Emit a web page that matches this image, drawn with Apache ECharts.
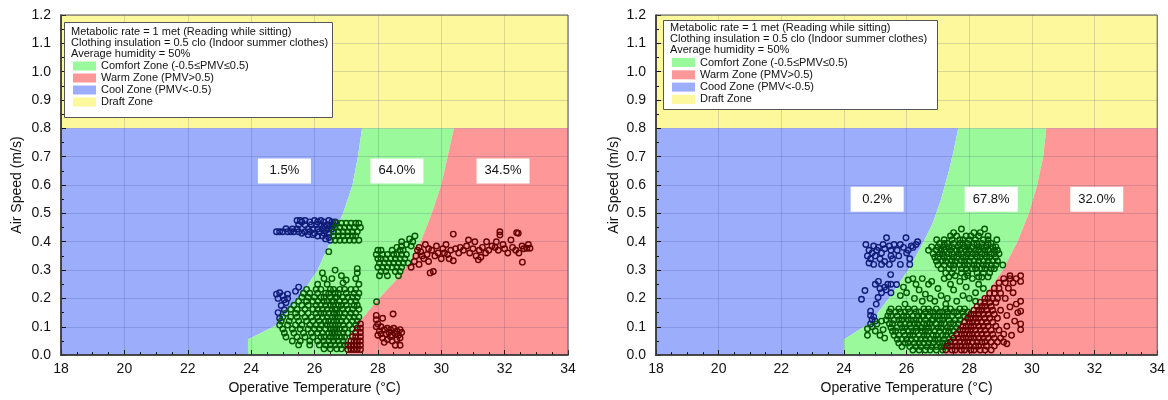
<!DOCTYPE html>
<html>
<head>
<meta charset="utf-8">
<script src="https://cdn.jsdelivr.net/npm/echarts@6/dist/echarts.min.js"></script>
<style>
  html, body { margin: 0; padding: 0; background: #fff; }
  #chart { width: 1168px; height: 400px; }
</style>
</head>
<body>
<div id="chart"></div>
<script>
// axis ranges
var xMin = 18, xMax = 34, xStep = 2;
var yMin = 0, yMax = 1.2, yStep = 0.1;
var draftLine = 0.8;

// zone edges (PMV = -0.5 and PMV = +0.5)
var leftCoolEdge = [[23.9, 0], [23.9, 0.055], [24.8, 0.105], [25.5, 0.2], [26.1, 0.3], [26.5, 0.4], [26.9, 0.5], [27.2, 0.6], [27.37, 0.7], [27.5, 0.8]];
var leftWarmEdge = [[27.0, 0], [27.2, 0.05], [27.45, 0.12], [27.95, 0.19], [28.5, 0.255], [29.0, 0.325], [29.35, 0.4], [29.7, 0.5], [30.0, 0.6], [30.2, 0.7], [30.4, 0.8]];
var rightCoolEdge = [[24.0, 0], [24.0, 0.055], [24.85, 0.115], [25.5, 0.21], [26.05, 0.3], [26.5, 0.39], [26.85, 0.47], [27.1, 0.55], [27.35, 0.65], [27.5, 0.72], [27.65, 0.8]];
var rightWarmEdge = [[27.2, 0], [27.7, 0.1], [28.44, 0.2], [29.07, 0.3], [29.54, 0.4], [29.9, 0.5], [30.17, 0.6], [30.36, 0.7], [30.46, 0.8]];

// zone percentages
var leftPct = ['1.5%', '64.0%', '34.5%'];
var rightPct = ['0.2%', '67.8%', '32.0%'];
var leftTagAt = [[25.05, 0.65], [28.6, 0.65], [31.95, 0.65]];
var rightTagAt = [[25.06, 0.55], [28.7, 0.55], [32.07, 0.55]];

// ---- left panel points ----
var leftCoolPts = [
  [25.45,0.475],[25.55,0.475],[25.6,0.47],[25.7,0.475],[25.85,0.47],[26.0,0.475],[26.1,0.47],[26.2,0.475],[26.3,0.47],[26.45,0.475],[26.55,0.47],[26.65,0.47],
  [25.5,0.46],[25.7,0.46],[25.9,0.46],[26.05,0.46],[26.2,0.46],[26.3,0.455],[26.4,0.46],[26.5,0.455],[26.6,0.46],
  [25.1,0.446],[25.3,0.445],[25.45,0.445],[25.8,0.445],[25.95,0.445],[26.1,0.445],[26.25,0.445],[26.35,0.44],[26.45,0.445],[26.55,0.445],
  [24.8,0.435],[24.9,0.435],[25.0,0.435],[25.15,0.435],[25.25,0.435],[25.35,0.435],[25.5,0.435],[25.6,0.43],[25.7,0.435],[25.85,0.435],[26.0,0.43],[26.15,0.435],[26.3,0.43],[26.45,0.43],
  [25.8,0.425],[25.95,0.425],[26.1,0.42],[26.25,0.42],[26.35,0.41],[26.45,0.415],[26.5,0.405],
  [24.8,0.215],[24.85,0.2],[24.9,0.22],[25.0,0.21],[25.05,0.195],[25.1,0.185],[25.15,0.2],[24.95,0.175],[25.05,0.16],[24.85,0.15],[24.9,0.13],[25.5,0.24],[25.4,0.225],[25.15,0.215]
];
var leftComfortRows = [
  [0.465, [26.7,26.85,27.0,27.15,27.3,27.4]],
  [0.45, [26.65,26.8,26.95,27.1,27.25,27.45]],
  [0.435, [26.6,26.75,26.9,27.05,27.2,27.35]],
  [0.42, [26.6,26.75,26.9,27.05,27.2,27.3]],
  [0.405, [26.65,26.8,26.95,27.1,27.25,27.4]],
  [0.232, [25.75,26.05,26.2,26.5,26.6,26.8,26.95,27.15,27.3]],
  [0.218, [25.65,25.85,26.1,26.35,26.45,26.65,26.75,27.0,27.25,27.4]],
  [0.204, [25.6,25.8,26.0,26.2,26.3,26.5,26.65,26.7,26.9,27.05,27.2,27.35]],
  [0.19, [25.5,25.75,25.95,26.1,26.3,26.4,26.55,26.6,26.8,26.95,27.15,27.3]],
  [0.176, [25.35,25.6,25.8,26.05,26.2,26.35,26.5,26.6,26.75,26.85,27.0,27.25,27.35]],
  [0.162, [25.25,25.45,25.7,25.95,26.1,26.25,26.4,26.55,26.65,26.7,26.9,27.05,27.2,27.4]],
  [0.148, [25.1,25.4,25.6,25.8,26.05,26.2,26.3,26.45,26.6,26.7,26.8,26.95,27.15,27.3]],
  [0.134, [25.0,25.25,25.45,25.7,25.9,26.1,26.25,26.4,26.55,26.65,26.75,26.9,27.1,27.25,27.4]],
  [0.12, [24.95,25.2,25.5,25.75,25.95,26.15,26.35,26.45,26.6,26.7,26.85,27.0,27.2,27.35]],
  [0.106, [24.9,25.15,25.4,25.6,25.85,26.05,26.2,26.4,26.5,26.65,26.75,26.9,27.1,27.3]],
  [0.092, [25.0,25.3,25.55,25.8,26.0,26.15,26.35,26.5,26.6,26.7,26.8,26.95,27.2]],
  [0.078, [25.05,25.35,25.65,25.9,26.1,26.25,26.45,26.55,26.65,26.75,26.9,27.05]],
  [0.064, [25.1,25.45,25.7,25.95,26.2,26.3,26.5,26.6,26.7,26.85,26.95]],
  [0.05, [25.3,25.55,25.85,26.1,26.3,26.45,26.6,26.75,26.9]],
  [0.036, [25.5,25.85,26.15,26.35,26.5,26.65,26.8,26.95]],
  [0.022, [26.3,26.5,26.7,26.85]],
  [0.37, [28.0,28.1,28.45,28.7,28.8]],
  [0.355, [27.95,28.15,28.3,28.5,28.6,28.75,28.9]],
  [0.34, [28.0,28.1,28.25,28.4,28.55,28.7,28.85]],
  [0.325, [28.05,28.2,28.35,28.5,28.65,28.8,28.95]],
  [0.31, [28.0,28.15,28.3,28.45,28.6,28.75]],
  [0.295, [28.1,28.25,28.55,28.7]],
  [0.28, [28.05,28.3,28.65]]
];
var leftComfortLoose = [
  [26.45,0.365],[26.25,0.29],[26.65,0.3],[26.85,0.28],[26.55,0.27],[26.3,0.27],[27.35,0.305],[27.35,0.29],[27.0,0.265],[26.9,0.255],[27.3,0.27],[27.4,0.25],[26.1,0.25],[26.4,0.25],
  [28.75,0.4],[29.0,0.41],[29.17,0.42],[29.1,0.4],[28.9,0.39],[28.75,0.385],[28.6,0.38],[29.05,0.385],[27.96,0.188]
];
var leftWarmRows = [
  [0.02, [27.05,27.15,27.25,27.35,27.45]],
  [0.035, [27.05,27.15,27.25,27.35,27.45]],
  [0.05, [27.15,27.25,27.35,27.45]],
  [0.065, [27.2,27.3,27.45]],
  [0.08, [27.3,27.45]],
  [0.095, [27.35,27.45]],
  [0.11, [27.45]]
];
var leftWarmLoose = [
  [27.95,0.14],[27.95,0.125],[28.0,0.11],[27.95,0.1],[28.05,0.085],[28.0,0.07],
  [28.48,0.145],[28.15,0.13],[28.1,0.1],[28.2,0.09],[28.3,0.095],[28.4,0.09],[28.5,0.095],[28.6,0.085],[28.7,0.09],[28.75,0.08],[28.25,0.075],[28.35,0.08],[28.45,0.07],[28.55,0.075],[28.65,0.07],[28.15,0.06],[28.3,0.055],[28.45,0.05],[28.6,0.055],[28.7,0.06],[28.2,0.045],[28.55,0.035],[28.7,0.035],[28.4,0.065],[28.1,0.075],
  [29.05,0.31],[29.15,0.33],[29.2,0.35],[29.3,0.32],[29.35,0.365],[29.3,0.38],[29.45,0.34],[29.5,0.39],[29.55,0.355],[29.6,0.33],[29.65,0.29],[29.75,0.295],[29.7,0.37],[29.8,0.35],[29.85,0.385],[29.9,0.36],[30.0,0.34],[30.05,0.375],[30.1,0.36],[30.15,0.39],[30.2,0.355],[30.3,0.37],[30.38,0.427],[30.38,0.333],[30.45,0.375],[30.55,0.36],[30.6,0.38],[30.7,0.37],[30.8,0.385],[30.86,0.406],[30.9,0.36],[31.0,0.375],[31.06,0.4],[31.1,0.35],[31.17,0.336],[31.2,0.37],[31.3,0.38],[31.43,0.4],[31.4,0.36],[31.5,0.37],[31.6,0.385],[31.7,0.38],[31.74,0.4],[31.85,0.435],[31.85,0.424],[31.8,0.37],[31.95,0.39],[32.0,0.375],[32.1,0.36],[32.2,0.406],[32.25,0.38],[32.38,0.432],[32.43,0.43],[32.35,0.37],[32.45,0.36],[32.56,0.328],[32.55,0.385],[32.6,0.375],[32.7,0.377],[32.8,0.377],[32.75,0.39],[29.4,0.35],[29.25,0.37],[29.6,0.375],[30.25,0.34],[31.25,0.345]
];

// ---- right panel points ----
var rightCoolPts = [
  [24.7,0.39],[24.8,0.37],[24.75,0.35],[24.85,0.34],[24.8,0.325],[24.9,0.36],[24.95,0.385],[25.0,0.35],[25.05,0.37],[24.95,0.32],[25.1,0.38],[25.15,0.34],[25.2,0.36],[25.25,0.39],[25.3,0.375],[25.36,0.414],[25.45,0.385],[25.5,0.37],[25.5,0.35],[25.55,0.34],[25.6,0.39],[25.7,0.37],[25.75,0.35],[25.8,0.39],[25.9,0.38],[25.98,0.414],[26.0,0.36],[26.05,0.37],[26.1,0.32],[26.15,0.385],[26.2,0.38],[26.3,0.39],[26.35,0.4],[25.2,0.32],[25.8,0.32],[26.1,0.34],[25.3,0.33],[25.45,0.32],
  [25.49,0.284],[24.67,0.228],[24.56,0.197],[25.09,0.203],[25.03,0.18],[25.68,0.249],[25.4,0.25],[25.3,0.24],[25.15,0.235],[25.2,0.22],[25.35,0.23],[25.5,0.22],[25.5,0.25],[25.0,0.25],[25.1,0.26],
  [24.85,0.155],[24.85,0.14],[24.9,0.125],[24.95,0.135],[25.0,0.12],[24.85,0.11]
];
var rightComfortRows = [
  [0.163, [25.5,25.75,26.05,26.25,26.55,26.7,26.95,27.25,27.4,27.7,27.85]],
  [0.152, [25.45,25.65,25.8,25.95,26.1,26.3,26.4,26.6,26.75,26.85,27.05,27.15,27.3,27.5,27.6,27.8,27.95]],
  [0.138, [25.4,25.5,25.7,25.9,26.0,26.2,26.35,26.5,26.55,26.7,26.9,27.0,27.2,27.3,27.45,27.65,27.85]],
  [0.124, [25.35,25.6,25.75,25.85,26.05,26.15,26.3,26.4,26.6,26.8,26.85,27.05,27.15,27.35,27.55,27.7]],
  [0.111, [25.45,25.55,25.8,25.95,26.1,26.25,26.35,26.55,26.65,26.75,26.95,27.1,27.2,27.4,27.5,27.65]],
  [0.097, [25.5,25.7,25.85,25.95,26.15,26.3,26.45,26.5,26.7,26.8,27.0,27.1,27.3,27.4,27.6]],
  [0.084, [25.55,25.65,25.9,26.05,26.2,26.3,26.5,26.6,26.7,26.9,27.05,27.25,27.35,27.5]],
  [0.07, [25.6,25.75,25.95,26.1,26.2,26.4,26.55,26.65,26.85,26.95,27.15,27.25,27.45]],
  [0.056, [25.7,25.85,26.0,26.15,26.3,26.45,26.6,26.75,26.9,27.0,27.2,27.35]],
  [0.043, [25.75,25.95,26.05,26.25,26.4,26.55,26.7,26.85,27.05,27.15,27.3]],
  [0.03, [25.85,26.1,26.3,26.45,26.65,26.8,26.95,27.1,27.2]],
  [0.018, [26.2,26.4,26.6,26.75,26.95,27.15]],
  [0.445, [27.75,28.49]],
  [0.432, [27.5,28.15,28.35]],
  [0.42, [27.4,27.6,27.9,28.05,28.3,28.6]],
  [0.407, [26.96,27.2,27.45,27.7,27.8,28.0,28.2,28.45,28.6,28.88]],
  [0.394, [27.05,27.2,27.3,27.5,27.7,27.8,27.95,28.15,28.25,28.4,28.6,28.7]],
  [0.382, [26.8,27.0,27.2,27.35,27.45,27.65,27.85,27.95,28.1,28.3,28.4,28.55,28.75,28.85]],
  [0.37, [26.7,26.95,27.1,27.2,27.4,27.6,27.7,27.9,28.0,28.2,28.3,28.5,28.6,28.8,28.9]],
  [0.358, [26.85,27.05,27.15,27.35,27.45,27.65,27.75,27.95,28.1,28.2,28.4,28.5,28.7,28.8,28.95]],
  [0.345, [26.9,27.0,27.2,27.3,27.5,27.6,27.8,27.9,28.05,28.25,28.35,28.55,28.65,28.85]],
  [0.332, [26.95,27.15,27.25,27.45,27.55,27.75,27.85,28.0,28.15,28.3,28.45,28.6,28.75,28.9]],
  [0.318, [27.0,27.2,27.4,27.5,27.7,27.85,27.95,28.15,28.25,28.45,28.55,28.7,28.85,29.07]],
  [0.305, [27.1,27.35,27.5,27.75,27.9,28.1,28.2,28.4,28.5,28.7,28.8]],
  [0.29, [27.25,27.45,27.75,27.95,28.25,28.45,28.65]],
  [0.276, [27.35,27.85,28.3,28.6]]
];
var rightComfortLoose = [
  [24.75,0.093],[24.75,0.07],[24.9,0.1],[25.0,0.085],[25.05,0.11],[25.2,0.12],[25.25,0.09],[25.15,0.07],[25.3,0.06],
  [25.8,0.21],[25.9,0.24],[26.0,0.22],[26.05,0.265],[26.2,0.27],[26.3,0.25],[26.4,0.23],[26.5,0.27],[26.6,0.215],[26.7,0.25],[26.8,0.26],[26.9,0.19],[27.0,0.235],[27.1,0.21],[27.2,0.27],[27.3,0.2],[27.4,0.25],[27.5,0.23],[27.6,0.19],[27.7,0.26],[27.8,0.21],[27.9,0.24],[28.0,0.2],[28.1,0.27],[28.2,0.22],[28.3,0.25],[28.45,0.235],[28.4,0.275],[26.25,0.2],[25.95,0.18],[26.5,0.19],[26.75,0.2],[27.25,0.18],[27.55,0.28],[27.95,0.28],[28.2,0.19]
];
var rightWarmRows = [
  [0.018, [27.25,27.45,27.55,27.75,27.85,28.05,28.15,28.35,28.5,28.7]],
  [0.032, [27.3,27.4,27.6,27.7,27.9,28.0,28.2,28.3,28.55,28.8]],
  [0.046, [27.4,27.55,27.7,27.85,27.95,28.1,28.25,28.4,28.5,28.7,28.9,29.1]],
  [0.06, [27.5,27.65,27.8,27.9,28.05,28.15,28.3,28.45,28.6,28.8,29.0]],
  [0.074, [27.6,27.75,27.85,28.0,28.1,28.25,28.4,28.55,28.75,29.1]],
  [0.088, [27.7,27.8,27.95,28.05,28.2,28.35,28.5,28.7,28.95]],
  [0.102, [27.8,27.9,28.05,28.15,28.3,28.45,28.6,28.85,29.2]],
  [0.116, [27.85,28.0,28.1,28.25,28.4,28.55,28.75]],
  [0.13, [27.95,28.05,28.2,28.3,28.5,28.65,28.9]],
  [0.144, [28.05,28.15,28.3,28.45,28.6,28.8]],
  [0.158, [28.15,28.3,28.4,28.55,28.75,29.0]],
  [0.172, [28.25,28.4,28.5,28.7]],
  [0.186, [28.35,28.5,28.65,28.85]],
  [0.2, [28.5,28.6,28.75,28.9,29.15]],
  [0.218, [28.65,28.8,29.0]],
  [0.236, [28.8,28.95,29.25]],
  [0.255, [28.95,29.15,29.4]],
  [0.27, [29.1,29.3]]
];
var rightWarmLoose = [
  [29.64,0.28],[29.64,0.26],[29.64,0.19],[29.64,0.155],[29.64,0.11],[29.64,0.09],
  [29.3,0.28],[29.5,0.27],[29.4,0.22],[29.3,0.17],[29.5,0.18],[29.2,0.14],[29.45,0.12],[29.35,0.07],[29.2,0.04],[29.55,0.15]
];

var zoneNames = ['Comfort Zone (-0.5\u2264PMV\u22640.5)', 'Warm Zone (PMV>0.5)', 'Cool Zone (PMV<-0.5)', 'Draft Zone'];
var rightCoolName = 'Cood Zone (PMV<-0.5)';
var headerLines = ['Metabolic rate = 1 met (Reading while sitting)', 'Clothing insulation = 0.5 clo (Indoor summer clothes)', 'Average humidity = 50%'];

var colors = { comfort: '#9af99a', warm: '#fe9898', cool: '#9badfb', draft: '#fdf89b' };
var dotColors = { comfort: '#005800', warm: '#660000', cool: '#0f1c78' };
var font = '"Liberation Sans", Arial, Helvetica, sans-serif';

function flatRows(rows) {
  var out = [];
  rows.forEach(function (r) {
    r[1].forEach(function (x) { out.push([x, r[0]]); });
  });
  return out;
}

function zone(name, color, pts, idx) {
  return {
    name: name, type: 'custom', xAxisIndex: idx, yAxisIndex: idx, z: 1, silent: true,
    itemStyle: { color: color },
    data: [0],
    renderItem: function (params, api) {
      return {
        type: 'polygon',
        shape: { points: pts.map(function (p) { return api.coord(p); }) },
        style: { fill: color }
      };
    }
  };
}

function zonesFor(coolEdge, warmEdge, idx, coolName) {
  return [
    zone(zoneNames[3], colors.draft, [[xMin, draftLine], [xMax, draftLine], [xMax, yMax], [xMin, yMax]], idx),
    zone(coolName, colors.cool, [[xMin, 0]].concat(coolEdge, [[xMin, draftLine]]), idx),
    zone(zoneNames[0], colors.comfort, coolEdge.concat(warmEdge.slice().reverse()), idx),
    zone(zoneNames[1], colors.warm, warmEdge.concat([[xMax, draftLine], [xMax, 0]]), idx)
  ];
}

function dots(data, color, idx) {
  return {
    type: 'scatter', xAxisIndex: idx, yAxisIndex: idx, z: 5, silent: true,
    symbol: 'circle', symbolSize: 5.5,
    itemStyle: { color: 'rgba(0,0,0,0)', borderColor: color, borderWidth: 1.4, opacity: 1 },
    data: data
  };
}

function tags(pos, texts, idx) {
  return {
    type: 'scatter', xAxisIndex: idx, yAxisIndex: idx, z: 6, silent: true,
    symbol: 'rect', symbolSize: [53, 25],
    itemStyle: { color: '#fff', opacity: 1 },
    label: {
      show: true, position: 'inside', color: '#111', fontSize: 13, fontFamily: font,
      formatter: function (p) { return texts[p.dataIndex]; }
    },
    data: pos
  };
}

function xAxisFor(idx) {
  return {
    gridIndex: idx, type: 'value', min: xMin, max: xMax, interval: xStep, z: 3,
    name: 'Operative Temperature (\u00b0C)', nameLocation: 'middle', nameGap: 21,
    nameTextStyle: { fontSize: 14, color: '#111', fontFamily: font },
    axisLine: { show: true, onZero: false, lineStyle: { color: '#111', width: 1.6 } },
    axisTick: { show: true, inside: true, length: 5, lineStyle: { color: '#111' } },
    minorTick: { show: true, splitNumber: 4, length: 3, lineStyle: { color: '#111' } },
    axisLabel: { fontSize: 14, color: '#111', margin: 7, fontFamily: font, showMinLabel: true, showMaxLabel: true },
    splitLine: { show: true, lineStyle: { color: 'rgba(40,40,110,0.16)', width: 1 } }
  };
}

function yAxisFor(idx, gap) {
  return {
    gridIndex: idx, type: 'value', min: yMin, max: yMax, interval: yStep, z: 3,
    name: 'Air Speed (m/s)', nameLocation: 'middle', nameGap: gap,
    nameTextStyle: { fontSize: 14, color: '#111', fontFamily: font },
    axisLine: { show: true, onZero: false, lineStyle: { color: '#111', width: 1.6 } },
    axisTick: { show: true, inside: true, length: 5, lineStyle: { color: '#111' } },
    minorTick: { show: true, splitNumber: 2, length: 3, lineStyle: { color: '#111' } },
    axisLabel: { fontSize: 14, color: '#111', margin: 10, fontFamily: font, formatter: function (v) { return v.toFixed(1); } },
    splitLine: { show: true, lineStyle: { color: 'rgba(40,40,110,0.16)', width: 1 } }
  };
}

function legendFor(left, top, names, gap) {
  return {
    left: left, top: top, orient: 'vertical', padding: 0, itemGap: gap, z: 12,
    selectedMode: false, icon: 'rect', itemWidth: 23, itemHeight: 9,
    textStyle: { fontSize: 11, color: '#111', fontFamily: font, padding: [0, 0, 0, 0] },
    data: names
  };
}

var myChart = echarts.init(document.getElementById('chart'));

var option = {
  animation: false,
  backgroundColor: '#fff',
  grid: [
    { left: 61, right: 600, top: 15, bottom: 40, show: true, z: 4, backgroundColor: 'transparent', borderColor: '#555', borderWidth: 1 },
    { left: 656, right: 5, top: 15, bottom: 40, show: true, z: 4, backgroundColor: 'transparent', borderColor: '#555', borderWidth: 1 }
  ],
  xAxis: [xAxisFor(0), xAxisFor(1)],
  yAxis: [yAxisFor(0, 37), yAxisFor(1, 35)],
  legend: [
    legendFor(73, 60.5, zoneNames, 1),
    legendFor(672, 57, [zoneNames[0], zoneNames[1], rightCoolName, zoneNames[3]], 1.3)
  ],
  graphic: [
    { type: 'rect', left: 64, top: 22, z: 10, shape: { width: 268, height: 95 }, style: { fill: '#fff', stroke: '#555', lineWidth: 1 } },
    { type: 'text', left: 71, top: 26.5, z: 11, style: { text: headerLines.join('\n'), font: '11px ' + font, fill: '#111', lineHeight: 10.8 } },
    { type: 'rect', left: 663, top: 20, z: 10, shape: { width: 274, height: 89 }, style: { fill: '#fff', stroke: '#555', lineWidth: 1 } },
    { type: 'text', left: 670, top: 22, z: 11, style: { text: headerLines.join('\n'), font: '11px ' + font, fill: '#111', lineHeight: 11.3 } }
  ],
  series: []
    .concat(zonesFor(leftCoolEdge, leftWarmEdge, 0, zoneNames[2]))
    .concat(zonesFor(rightCoolEdge, rightWarmEdge, 1, rightCoolName))
    .concat([
      dots(leftCoolPts, dotColors.cool, 0),
      dots(flatRows(leftComfortRows).concat(leftComfortLoose), dotColors.comfort, 0),
      dots(flatRows(leftWarmRows).concat(leftWarmLoose), dotColors.warm, 0),
      dots(rightCoolPts, dotColors.cool, 1),
      dots(flatRows(rightComfortRows).concat(rightComfortLoose), dotColors.comfort, 1),
      dots(flatRows(rightWarmRows).concat(rightWarmLoose), dotColors.warm, 1),
      tags(leftTagAt, leftPct, 0),
      tags(rightTagAt, rightPct, 1)
    ])
};

myChart.setOption(option);
</script>
</body>
</html>
